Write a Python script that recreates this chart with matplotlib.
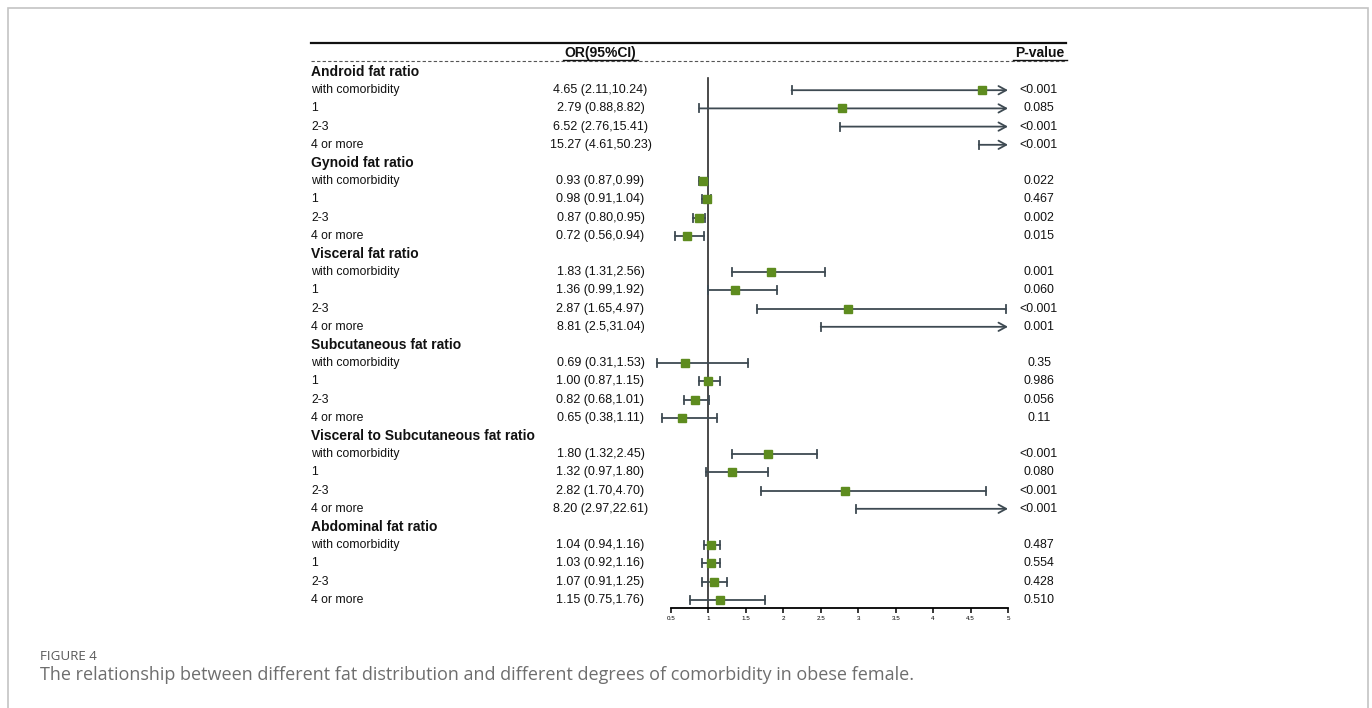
import matplotlib
matplotlib.use("Agg")
import matplotlib.pyplot as plt
from matplotlib.transforms import blended_transform_factory
from matplotlib.lines import Line2D
from matplotlib.patches import Rectangle

groups = ["Android fat ratio", "Gynoid fat ratio", "Visceral fat ratio",
          "Subcutaneous fat ratio", "Visceral to Subcutaneous fat ratio",
          "Abdominal fat ratio"]
subgroups = ["with comorbidity", "1", "2-3", "4 or more"]

or_vals = [4.65, 2.79, 6.52, 15.27,
           0.93, 0.98, 0.87, 0.72,
           1.83, 1.36, 2.87, 8.81,
           0.69, 1.00, 0.82, 0.65,
           1.80, 1.32, 2.82, 8.20,
           1.04, 1.03, 1.07, 1.15]
ci_low = [2.11, 0.88, 2.76, 4.61,
          0.87, 0.91, 0.80, 0.56,
          1.31, 0.99, 1.65, 2.5,
          0.31, 0.87, 0.68, 0.38,
          1.32, 0.97, 1.70, 2.97,
          0.94, 0.92, 0.91, 0.75]
ci_high = [10.24, 8.82, 15.41, 50.23,
           0.99, 1.04, 0.95, 0.94,
           2.56, 1.92, 4.97, 31.04,
           1.53, 1.15, 1.01, 1.11,
           2.45, 1.80, 4.70, 22.61,
           1.16, 1.16, 1.25, 1.76]
or_text = ["4.65 (2.11,10.24)", "2.79 (0.88,8.82)", "6.52 (2.76,15.41)", "15.27 (4.61,50.23)",
           "0.93 (0.87,0.99)", "0.98 (0.91,1.04)", "0.87 (0.80,0.95)", "0.72 (0.56,0.94)",
           "1.83 (1.31,2.56)", "1.36 (0.99,1.92)", "2.87 (1.65,4.97)", "8.81 (2.5,31.04)",
           "0.69 (0.31,1.53)", "1.00 (0.87,1.15)", "0.82 (0.68,1.01)", "0.65 (0.38,1.11)",
           "1.80 (1.32,2.45)", "1.32 (0.97,1.80)", "2.82 (1.70,4.70)", "8.20 (2.97,22.61)",
           "1.04 (0.94,1.16)", "1.03 (0.92,1.16)", "1.07 (0.91,1.25)", "1.15 (0.75,1.76)"]
p_text = ["<0.001", "0.085", "<0.001", "<0.001",
          "0.022", "0.467", "0.002", "0.015",
          "0.001", "0.060", "<0.001", "0.001",
          "0.35", "0.986", "0.056", "0.11",
          "<0.001", "0.080", "<0.001", "<0.001",
          "0.487", "0.554", "0.428", "0.510"]
x_ticks = [0.5, 1, 1.5, 2, 2.5, 3, 3.5, 4, 4.5, 5]
x_tick_labels = ["0.5", "1", "1.5", "2", "2.5", "3", "3.5", "4", "4.5", "5"]

W, H = 1372, 708
plt.rcParams['font.family'] = ['Liberation Sans', 'DejaVu Sans']
fig = plt.figure(figsize=(W / 100, H / 100), dpi=100)

def fx(px):
    return px / W

def fy(py):
    return 1 - py / H

# card frame
fig.patches.append(Rectangle((fx(8), fy(720)), fx(1368) - fx(8), fy(8) - fy(720),
                             transform=fig.transFigure, fill=False,
                             edgecolor="#c4c4c4", lw=1.2))

row0, step = 72, 18.2
ax_top, ax_bot = 40, 608
ax = fig.add_axes([fx(671), fy(ax_bot), fx(1008) - fx(671), fy(ax_top) - fy(ax_bot)])
ax.set_xlim(0.5, 5)
ax.set_ylim((ax_bot - row0) / step, (ax_top - row0) / step)
for s in ["top", "right", "left"]:
    ax.spines[s].set_visible(False)
ax.spines["bottom"].set_linewidth(1.3)
ax.set_yticks([])
ax.set_xticks(x_ticks)
ax.set_xticklabels(x_tick_labels, fontsize=4.5)
ax.tick_params(axis="x", direction="out", length=3.5, width=1.1, pad=2)
ax.patch.set_alpha(0)

line_col = "#3e4a52"
mk_col = "#5e8c1f"

# reference vertical line
ax.plot([1, 1], [(78 - row0) / step, ax.get_ylim()[0]], color="#2b2b2b", lw=1.2, clip_on=False)

tr = blended_transform_factory(fig.transFigure, ax.transData)
row = 0
k = 0
for g in groups:
    ax.text(fx(311), row, g, transform=tr, ha="left", va="center",
            fontsize=10, fontweight="bold", color="#111111")
    row += 1
    for sg in subgroups:
        ax.text(fx(311), row, sg, transform=tr, ha="left", va="center",
                fontsize=8.8, color="#111111")
        ax.text(fx(600.5), row, or_text[k], transform=tr, ha="center", va="center",
                fontsize=9.0, color="#111111")
        ax.text(fx(1039), row, p_text[k], transform=tr, ha="center", va="center",
                fontsize=8.9, color="#111111")
        lo, hi, orv = ci_low[k], ci_high[k], or_vals[k]
        cap = 0.22
        if hi > 5:
            ax.annotate("", xy=(5, row), xytext=(lo, row),
                        arrowprops=dict(arrowstyle="->,head_length=0.55,head_width=0.3",
                                        lw=1.3, color=line_col, shrinkA=0, shrinkB=0),
                        annotation_clip=False)
        else:
            ax.plot([lo, hi], [row, row], color=line_col, lw=1.3, clip_on=False)
            ax.plot([hi, hi], [row - cap, row + cap], color=line_col, lw=1.3, clip_on=False)
        ax.plot([lo, lo], [row - cap, row + cap], color=line_col, lw=1.3, clip_on=False)
        if orv <= 5:
            ax.plot([orv], [row], marker="s", ms=5.2, color=mk_col, mec=mk_col,
                    linestyle="none", clip_on=False, zorder=5)
        row += 1
        k += 1

# header
fig.add_artist(Line2D([fx(311), fx(1066)], [fy(42.5), fy(42.5)], color="#111111", lw=1.6))
fig.add_artist(Line2D([fx(311), fx(1066)], [fy(60.5), fy(60.5)], color="#555555", lw=0.8,
                      linestyle=(0, (3, 2))))
fig.text(fx(600), fy(53), "OR(95%CI)", ha="center", va="center", fontsize=10,
         fontweight="bold", color="#111111")
fig.text(fx(1040), fy(53), "P-value", ha="center", va="center", fontsize=10,
         fontweight="bold", color="#111111")
fig.add_artist(Line2D([fx(563), fx(638)], [fy(60), fy(60)], color="#111111", lw=1.0))
fig.add_artist(Line2D([fx(1013), fx(1067)], [fy(60), fy(60)], color="#111111", lw=1.0))

# caption
fig.text(fx(40), fy(656), "FIGURE 4", ha="left", va="center", fontsize=9.6,
         color="#5a5a5a", family=["Open Sans", "DejaVu Sans"])
fig.text(fx(40), fy(675), "The relationship between different fat distribution and different degrees of comorbidity in obese female.",
         ha="left", va="center", fontsize=13, color="#6e6e6e",
         family=["Open Sans", "DejaVu Sans"])

fig.savefig("out.png", dpi=100)
